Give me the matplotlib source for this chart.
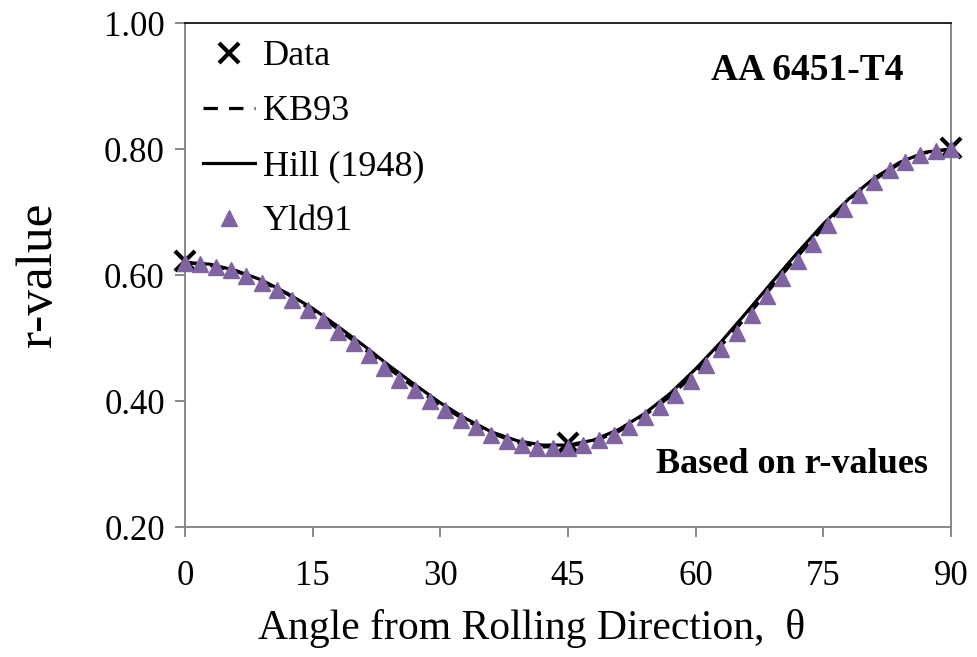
import numpy as np
import matplotlib
matplotlib.use("Agg")
import matplotlib.pyplot as plt

plt.rcParams['font.family'] = ['Liberation Serif', 'DejaVu Serif']

# Experimental data
data_theta = [0, 45, 90]
data_r = [0.622, 0.333, 0.802]

# Model curves (3 degree steps)
curve_theta = list(range(0, 91, 3))
kb93_r = [0.620, 0.615, 0.606, 0.590, 0.570, 0.543, 0.514, 0.483, 0.451, 0.421,
          0.393, 0.369, 0.349, 0.334, 0.327, 0.328, 0.336, 0.352, 0.377, 0.407,
          0.445, 0.488, 0.534, 0.582, 0.630, 0.675, 0.720, 0.751, 0.777, 0.794, 0.800]
hill_r = [0.620, 0.617, 0.607, 0.592, 0.571, 0.547, 0.518, 0.488, 0.456, 0.426,
          0.397, 0.372, 0.351, 0.337, 0.330, 0.330, 0.338, 0.355, 0.380, 0.412,
          0.451, 0.494, 0.541, 0.589, 0.636, 0.681, 0.721, 0.754, 0.779, 0.795, 0.800]

# Yld91 (1.8 degree steps)
yld_theta = [round(i * 1.8, 1) for i in range(51)]
yld_r = [0.619, 0.617, 0.613, 0.608, 0.599, 0.588, 0.576, 0.561, 0.545, 0.529,
         0.510, 0.492, 0.473, 0.453, 0.434, 0.417, 0.400, 0.385, 0.370, 0.358,
         0.346, 0.337, 0.330, 0.326, 0.325, 0.326, 0.330, 0.338, 0.346, 0.359,
         0.374, 0.390, 0.410, 0.432, 0.457, 0.482, 0.508, 0.537, 0.566, 0.595,
         0.623, 0.650, 0.679, 0.704, 0.727, 0.748, 0.766, 0.779, 0.790, 0.797, 0.800]

x_ticks = [0, 15, 30, 45, 60, 75, 90]
y_ticks = [0.20, 0.40, 0.60, 0.80, 1.00]

fig = plt.figure(figsize=(9.77, 6.57), dpi=100)
ax = fig.add_axes([185/977, 1 - 527/657, (951-185)/977, (527-23)/657])

ax.plot(data_theta, data_r, linestyle='none', marker='x', color='black',
        ms=15, mew=3, label='Data', zorder=3, clip_on=False)
ax.plot(curve_theta, kb93_r, linestyle=(0, (4.5, 3.5)), color='black', lw=2.3,
        label='KB93', zorder=4)
ax.plot(curve_theta, hill_r, linestyle='-', color='black', lw=2.3,
        label='Hill (1948)', zorder=5)
ax.plot(yld_theta, yld_r, linestyle='none', marker='^', color='#8064A2',
        ms=11, mec='#8064A2', label='Yld91', zorder=6, clip_on=False)

ax.set_xlim(0, 90)
ax.set_ylim(0.20, 1.00)
ax.set_xticks(x_ticks)
ax.set_yticks(y_ticks)
ax.set_xticklabels([str(t) for t in x_ticks])
ax.set_yticklabels([f"{t:.2f}" for t in y_ticks])

gray = '#808080'
for s in ['left', 'right', 'bottom']:
    ax.spines[s].set_color(gray)
    ax.spines[s].set_linewidth(1.3)
ax.spines['top'].set_color('black')
ax.spines['top'].set_linewidth(1.2)

ax.tick_params(axis='both', direction='out', length=7.5, width=1.3, color=gray,
               labelsize=25, colors='black')
ax.tick_params(axis='x', pad=16)
ax.tick_params(axis='y', pad=7)
for lbl in ax.get_xticklabels() + ax.get_yticklabels():
    lbl.set_color('black')

ax.set_xlabel('Angle from Rolling Direction,  θ', fontsize=30)
ax.xaxis.set_label_coords(0.452, -0.163)
ax.xaxis.label.set_va('top')
ax.set_ylabel('r-value', fontsize=37, labelpad=30)

leg = ax.legend(loc='upper left', bbox_to_anchor=(0.0235, 0.966), frameon=False,
                fontsize=26, handlelength=1.45, handletextpad=0.2,
                labelspacing=0.60, borderaxespad=0.0, borderpad=0.0)

ax.text(0.812, 0.887, 'AA 6451-T4', transform=ax.transAxes, fontsize=27,
        fontweight='bold', ha='center', va='baseline')
ax.text(0.792, 0.107, 'Based on r-values', transform=ax.transAxes, fontsize=26,
        fontweight='bold', ha='center', va='baseline')

fig.savefig('out.png', dpi=100)
